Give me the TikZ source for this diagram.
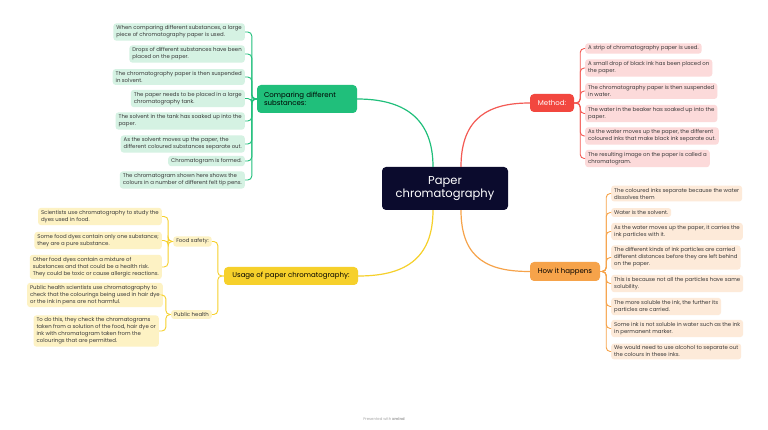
\documentclass[tikz,border=0pt]{standalone}
\usepackage{fontspec}
\setmainfont{Poppins}

\definecolor{navy}{HTML}{0B0B2D}
\definecolor{grmain}{HTML}{20BF7B}
\definecolor{grleaf}{HTML}{D5F2E3}
\definecolor{rdmain}{HTML}{F2473F}
\definecolor{rdline}{HTML}{F35A54}
\definecolor{rdleaf}{HTML}{FCDADA}
\definecolor{ormain}{HTML}{F6A34A}
\definecolor{orleaf}{HTML}{FDEAD9}
\definecolor{yemain}{HTML}{F6D02B}
\definecolor{yeleaf}{HTML}{FDF2C4}
\definecolor{leaftext}{HTML}{3A3A3A}

\tikzset{
  leaf/.style={rounded corners=3pt, align=left, inner xsep=3pt, inner ysep=2.4pt,
               font=\fontsize{5.4}{7}\selectfont, text=leaftext},
  mainbox/.style={rounded corners=4pt, inner xsep=7pt, inner ysep=4pt,
                  font=\fontsize{7}{8.5}\selectfont},
}

\begin{document}
\begin{tikzpicture}[x=1pt,y=-1pt]
\useasboundingbox[fill=white] (0,0) rectangle (768,430);

% centre
\node (center) at (445,188.5) [rounded corners=4pt,fill=navy,text=white,align=center,
      minimum width=126pt,minimum height=43pt,font=\fontsize{11.5}{13}\selectfont]
      {Paper\\chromatography};
\coordinate (ctl) at ([xshift=-12pt]center.north);
\coordinate (ctr) at ([xshift=16pt]center.north);
\coordinate (cbl) at ([xshift=-12pt]center.south);
\coordinate (cbr) at ([xshift=16pt]center.south);

% % main topics
\node (comp) at (307,99) [mainbox,fill=grmain,text=black,text width=86pt,align=left,
      minimum height=28pt] {Comparing different\\substances:};
\node (meth) at (552,103) [mainbox,fill=rdmain,text=white,minimum width=44pt,
      minimum height=18pt] {Method:};
\node (how) at (565,271.5) [mainbox,fill=ormain,text=black,minimum width=70pt,
      minimum height=19pt] {How it happens};
\node (usage) at (291,276) [mainbox,fill=yemain,text=black,minimum width=134pt,
      minimum height=18pt] {Usage of paper chromatography:};

% % comparing different substances
\begin{scope}[every node/.style={leaf,fill=grleaf,anchor=east}]
    \node (c1) at (245,32) {When comparing different substances, a large\\piece of chromatography paper is used.};
    \node (c2) at (245,54) {Drops of different substances have been\\placed on the paper.};
    \node (c3) at (245,77) {The chromatography paper is then suspended\\in solvent.};
    \node (c4) at (245,98.5) {The paper needs to be placed in a large\\chromatography tank.};
    \node (c5) at (245,121) {The solvent in the tank has soaked up into the\\paper.};
    \node (c6) at (245,144) {As the solvent moves up the paper, the\\different coloured substances separate out.};
    \node (c7) at (245,161) {Chromatogram is formed.};
    \node (c8) at (245,180) {The chromatogram shown here shows the\\colours in a number of different felt tip pens.};
\end{scope}

% % method
\begin{scope}[every node/.style={leaf,fill=rdleaf,anchor=west}]
    \node (r1) at (585,48.5) {A strip of chromatography paper is used.};
    \node (r2) at (585,68) {A small drop of black ink has been placed on\\the paper.};
    \node (r3) at (585,91) {The chromatography paper is then suspended\\in water.};
    \node (r4) at (585,113.5) {The water in the beaker has soaked up into the\\paper.};
    \node (r5) at (585,136) {As the water moves up the paper, the different\\coloured inks that make black ink separate out.};
    \node (r6) at (585,158.5) {The resulting image on the paper is called a\\chromatogram.};
\end{scope}

% % how it happens
\begin{scope}[every node/.style={leaf,fill=orleaf,anchor=west}]
    \node (o1) at (611,193.5) {The coloured inks separate because the water\\dissolves them};
    \node (o2) at (611,212.5) {Water is the solvent.};
    \node (o3) at (611,231.5) {As the water moves up the paper, it carries the\\ink particles with it.};
    \node (o4) at (611,257.5) {The different kinds of ink particles are carried\\different distances before they are left behind\\on the paper.};
    \node (o5) at (611,283.5) {This is because not all the particles have same\\solubility.};
    \node (o6) at (611,306.5) {The more soluble the ink, the further its\\particles are carried.};
    \node (o7) at (611,328.5) {Some ink is not soluble in water such as the ink\\in permanent marker.};
    \node (o8) at (611,351.5) {We would need to use alcohol to separate out\\the colours in these inks.};
\end{scope}

% % usage
\begin{scope}[every node/.style={leaf,fill=yeleaf}]
    \node (food) at (192.5,241.5) {Food safety:};
    \node (pub) at (191.5,314.5) {Public health};
\end{scope}
\begin{scope}[every node/.style={leaf,fill=yeleaf,anchor=east}]
    \node (f1) at (162,216.5) {Scientists use chromatography to study the\\dyes used in food.};
    \node (f2) at (162,240.5) {Some food dyes contain only one substance;\\they are a pure substance.};
    \node (f3) at (162,267) {Other food dyes contain a mixture of\\substances and that could be a health risk.\\They could be toxic or cause allergic reactions.};
    \node (p1) at (163,295) {Public health scientists use chromatography to\\check that the colourings being used in hair dye\\or the ink in pens are not harmful.};
    \node (p2) at (159,331) {To do this, they check the chromatograms\\taken from a solution of the food, hair dye or\\ink with chromatogram taken from the\\colourings that are permitted.};
\end{scope}

% % centre to main topics
\begin{scope}[line width=1.2pt]
    \draw [grmain] (ctl) .. controls +(0,-50) and +(45,0) .. (comp.east);
    \draw [rdline] (ctr) .. controls +(0,-50) and +(-40,0) .. (meth.west);
    \draw [yemain] (cbl) .. controls +(0,50) and +(45,0) .. (usage.east);
    \draw [ormain] (cbr) .. controls +(0,50) and +(-40,0) .. (how.west);
\end{scope}

% % branches
\begin{scope}[line width=0.9pt,rounded corners=4pt]
    \foreach \n in {c1,c2,c3,c4,c5,c6,c7,c8}
        \draw [grmain] (comp.west) -- ++(-5,0) |- (\n.east);
    \foreach \n in {r1,r2,r3,r4,r5,r6}
        \draw [rdline] (meth.east) -- ++(6,0) |- (\n.west);
    \foreach \n in {o1,o2,o3,o4,o5,o6,o7,o8}
        \draw [ormain] (how.east) -- ++(6,0) |- (\n.west);
    \foreach \n in {food,pub}
        \draw [yemain] (usage.west) -- ++(-6,0) |- (\n.east);
    \foreach \n in {f1,f2,f3}
        \draw [yemain] (food.west) -- ++(-5,0) |- (\n.east);
    \foreach \n in {p1,p2}
        \draw [yemain] (pub.west) -- ++(-5,0) |- (\n.east);
\end{scope}

% footer
\node (foot) at (384,419) [font=\fontsize{3.8}{4}\selectfont,text=black!35]
      {Presented with \textbf{xmind}};
\end{tikzpicture}
\end{document}
